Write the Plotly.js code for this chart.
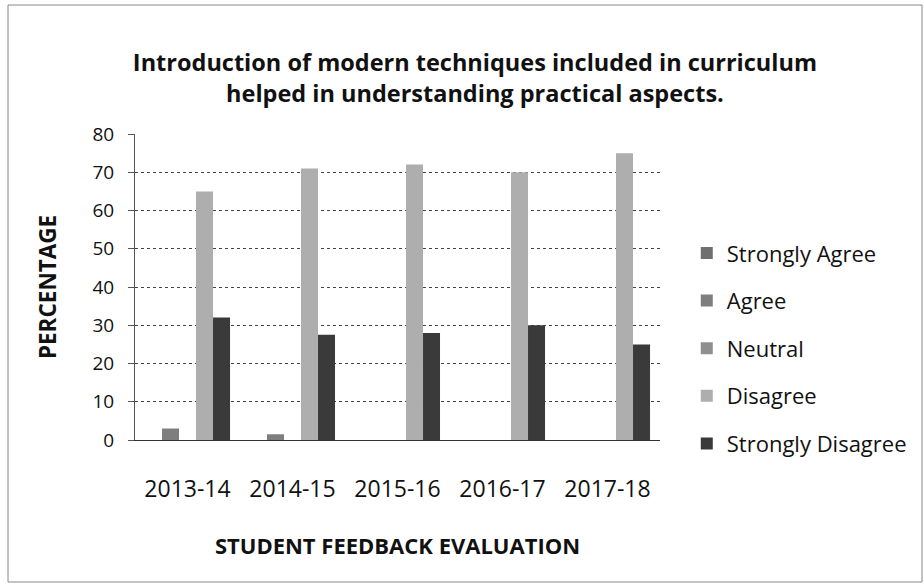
<!DOCTYPE html>
<html>
<head>
<meta charset="utf-8">
<script src="https://cdn.plot.ly/plotly-3.0.1.min.js"></script>
<style>
html,body{margin:0;padding:0;background:#fff;}
#chart{width:924px;height:584px;}
</style>
</head>
<body>
<div id="chart"></div>
<script>
// Data
var years = ["2013-14", "2014-15", "2015-16", "2016-17", "2017-18"];
var seriesNames = ["Strongly Agree", "Agree", "Neutral", "Disagree", "Strongly Disagree"];
var stronglyAgree = [0, 0, 0, 0, 0];
var agree = [3, 1.5, 0, 0, 0];
var neutral = [0, 0, 0, 0, 0];
var disagree = [65, 71, 72, 70, 75];
var stronglyDisagree = [32, 27.5, 28, 30, 25];
var yTicks = [0, 10, 20, 30, 40, 50, 60, 70, 80];

var seriesValues = [stronglyAgree, agree, neutral, disagree, stronglyDisagree];
var seriesColors = ["#6f6f6f", "#7e7e7e", "#8f8f8f", "#aeaeae", "#3a3a3a"];

var FONT = "'Open Sans', 'DejaVu Sans', sans-serif";

var traces = seriesNames.map(function (name, i) {
  return {
    type: "bar",
    name: name,
    x: years,
    y: seriesValues[i],
    legendgroup: "g" + i,
    marker: { color: seriesColors[i], line: { width: 0 } },
    hoverinfo: "x+y+name"
  };
});

var layout = {
  width: 924,
  height: 584,
  paper_bgcolor: "#ffffff",
  plot_bgcolor: "#ffffff",
  margin: { l: 135, r: 264, t: 134, b: 144 },
  barmode: "group",
  bargap: 0.19,
  bargroupgap: 0,
  font: { family: FONT, color: "#111111", size: 18 },
  title: {
    text: "Introduction of modern techniques included in curriculum<br>helped in understanding practical aspects.",
    font: { family: FONT, size: 23.5, weight: "bold", color: "#111111", lineposition: "none" },
    x: 0.514,
    xanchor: "center",
    y: 1 - 71 / 584,
    yanchor: "top",
    yref: "container"
  },
  xaxis: {
    type: "category",
    showgrid: false,
    showline: true,
    linecolor: "#333333",
    linewidth: 1,
    ticks: "",
    tickfont: { family: FONT, size: 23, color: "#111111" },
    ticklabelstandoff: 28,
    title: {
      text: "STUDENT FEEDBACK EVALUATION",
      font: { family: FONT, size: 22, weight: "bold", color: "#111111" },
      standoff: 36
    },
    fixedrange: true
  },
  yaxis: {
    range: [0, 80],
    tickvals: yTicks,
    showgrid: true,
    gridcolor: "#444444",
    gridwidth: 1,
    griddash: "dot",
    showline: true,
    linecolor: "#555555",
    linewidth: 1,
    ticks: "outside",
    ticklen: 6,
    tickcolor: "#555555",
    zeroline: false,
    tickfont: { family: FONT, size: 19, color: "#111111" },
    ticklabelstandoff: 10,
    title: {
      text: "PERCENTAGE",
      font: { family: FONT, size: 22.5, weight: "bold", color: "#111111" },
      standoff: 29
    },
    fixedrange: true
  },
  legend: {
    x: 1.051,
    xanchor: "left",
    y: 0.3,
    yanchor: "middle",
    traceorder: "grouped",
    tracegroupgap: 16,
    font: { family: FONT, size: 22, color: "#111111" },
    itemwidth: 30,
    bgcolor: "rgba(0,0,0,0)"
  },
  shapes: [
    {
      type: "rect",
      xref: "paper",
      yref: "paper",
      x0: (8 - 135) / 525,
      x1: (922 - 135) / 525,
      y0: (440 - 582) / 306,
      y1: (440 - 5) / 306,
      line: { color: "#888888", width: 1 },
      fillcolor: "rgba(0,0,0,0)",
      layer: "below"
    }
  ]
};

Plotly.newPlot("chart", traces, layout, { displayModeBar: false, staticPlot: true });
</script>
</body>
</html>
